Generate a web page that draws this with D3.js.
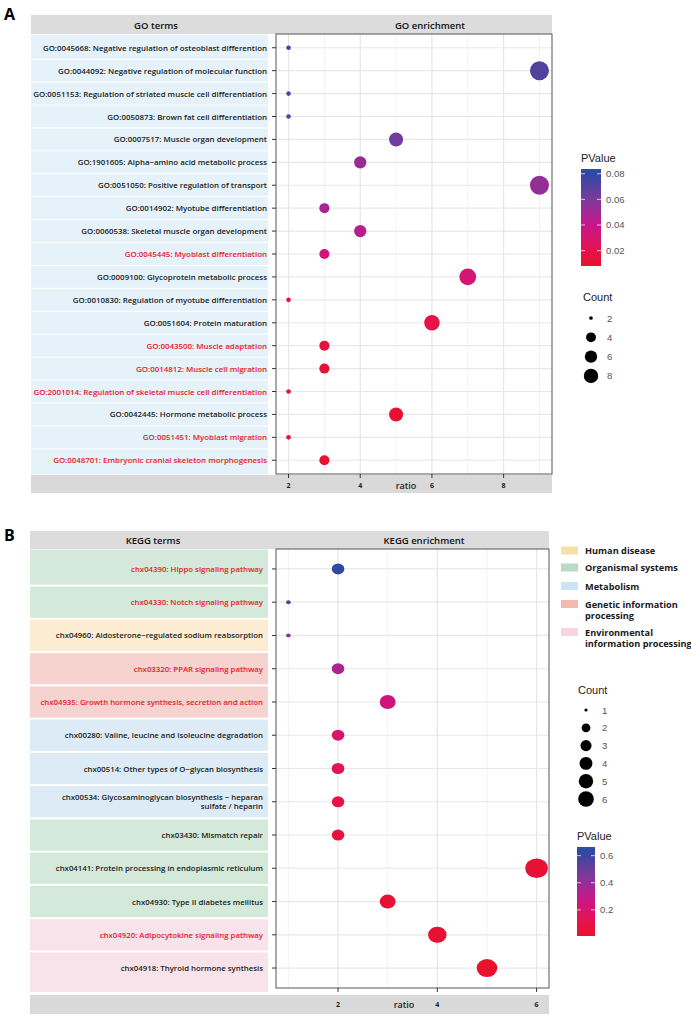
<!DOCTYPE html>
<html>
<head>
<meta charset="utf-8">
<script src="https://cdn.jsdelivr.net/npm/d3@7"></script>
<style>
body { margin: 0; background: #fff; }
svg { display: block; }
</style>
</head>
<body>
<svg id="chart" width="691" height="1015"></svg>
<script>
// ---- Panel A data (GO) ----
const goTerms = [
    "GO:0045668: Negative regulation of osteoblast differention",
    "GO:0044092: Negative regulation of molecular function",
    "GO:0051153: Regulation of striated muscle cell differentiation",
    "GO:0050873: Brown fat cell differentiation ",
    "GO:0007517: Muscle organ development",
    "GO:1901605: Alpha\u2212amino acid metabolic process",
    "GO:0051050: Positive regulation of transport",
    "GO:0014902: Myotube differentiation",
    "GO:0060538: Skeletal muscle organ development",
    "GO:0045445: Myoblast differentiation",
    "GO:0009100: Glycoprotein metabolic process ",
    "GO:0010830: Regulation of myotube differentiation",
    "GO:0051604: Protein maturation",
    "GO:0043500: Muscle adaptation",
    "GO:0014812: Muscle cell migration",
    "GO:2001014: Regulation of skeletal muscle cell differentiation",
    "GO:0042445: Hormone metabolic process",
    "GO:0051451: Myoblast migration",
    "GO:0048701: Embryonic cranial skeleton morphogenesis"
];
const goRatio = [2, 9, 2, 2, 5, 4, 9, 3, 4, 3, 7, 2, 6, 3, 3, 2, 5, 2, 3];
const goCount = [2, 9, 2, 2, 5, 4, 9, 3, 4, 3, 7, 2, 6, 3, 3, 2, 5, 2, 3];
const goPValue = [0.082, 0.071, 0.066, 0.066, 0.063, 0.052, 0.054, 0.048, 0.044, 0.034,
    0.032, 0.022, 0.018, 0.014, 0.013, 0.012, 0.011, 0.010, 0.009];
const goRed = [0, 0, 0, 0, 0, 0, 0, 0, 0, 1, 0, 0, 0, 1, 1, 1, 0, 1, 1];
const goTicks = [2, 4, 6, 8];
const goCountKeys = [2, 4, 6, 8];
const goPTicks = [0.02, 0.04, 0.06, 0.08];

// ---- Panel B data (KEGG) ----
const keggTerms = [
    "chx04390: Hippo signaling pathway",
    "chx04330: Notch signaling pathway",
    "chx04960: Aldosterone\u2212regulated sodium reabsorption",
    "chx03320: PPAR signaling pathway",
    "chx04935: Growth hormone synthesis, secretion and action",
    "chx00280: Valine, leucine and isoleucine degradation",
    "chx00514: Other types of O\u2212glycan biosynthesis",
    "chx00534: Glycosaminoglycan biosynthesis \u2212 heparan\nsulfate / heparin",
    "chx03430: Mismatch repair",
    "chx04141: Protein processing in endoplasmic reticulum",
    "chx04930: Type II diabetes mellitus",
    "chx04920: Adipocytokine signaling pathway",
    "chx04918: Thyroid hormone synthesis"
];
const keggRatio = [2, 1, 1, 2, 3, 2, 2, 2, 2, 6, 3, 4, 5];
const keggCount = [2, 1, 1, 2, 3, 2, 2, 2, 2, 6, 3, 4, 5];
const keggPValue = [0.64, 0.55, 0.45, 0.35, 0.25, 0.2, 0.15, 0.1, 0.06, 0.03, 0.03, 0.02, 0.01];
const keggRed = [1, 1, 0, 1, 1, 0, 0, 0, 0, 0, 0, 1, 0];
const keggClass = [1, 1, 0, 3, 3, 2, 2, 2, 1, 1, 1, 4, 4];
const keggClasses = ["Human disease", "Organismal systems", "Metabolism",
    "Genetic information\nprocessing", "Environmental\ninformation processing"];
const keggTicks = [2, 4, 6];
const keggCountKeys = [1, 2, 3, 4, 5, 6];
const keggPTicks = [0.2, 0.4, 0.6];

// colours of the class bands and legend swatches
const bandColors = ["#fbecd2", "#d4e9da", "#dcebf5", "#f6d3cf", "#f9e3ea"];
const swatchColors = ["#f8e0a8", "#b8dcc3", "#c9e4f3", "#f2b9b1", "#f7d6e2"];
// red -> magenta -> purple -> blue ramp, by position along the p-value range
const rampStops = [0, 0.16, 0.42, 0.69, 0.95, 1];
const rampColors = ["#e8112d", "#e5134d", "#c9168a", "#7a3a9c", "#3048a2", "#2b4ea3"];

const svg = d3.select("#chart");
const labelFont = "'Open Sans', sans-serif";
const legendFont = "'Liberation Sans', Arial, sans-serif";
const redText = "#e3192b";

// ggplot-like point size: area grows with sqrt of rescaled count
function sizeScale(cmin, cmax, rmin, rmax) {
    const s = d3.scaleSqrt().domain([0, cmax - cmin]).range([0, rmax - rmin]);
    return c => rmin + s(c - cmin);
}

function drawPanel(cfg) {
    const g = svg.append("g");
    const n = cfg.terms.length;

    const x = d3.scaleLinear().domain(cfg.xDomain).range([cfg.left, cfg.right]);
    const y = d3.scalePoint().domain(d3.range(n)).range([cfg.top, cfg.bottom]).padding(0.6);
    const p0 = cfg.pDomain[0], p1 = cfg.pDomain[1];
    const color = d3.scaleLinear().domain(rampStops.map(f => p0 + f * (p1 - p0)))
        .range(rampColors).interpolate(d3.interpolateRgb);
    const r = sizeScale(cfg.cDomain[0], cfg.cDomain[1], cfg.rRange[0], cfg.rRange[1]);

    // header band
    g.append("rect").attr("x", cfg.panelLeft).attr("y", cfg.headerTop)
        .attr("width", cfg.right - cfg.panelLeft).attr("height", cfg.top - cfg.headerTop)
        .attr("fill", "#dcdcdc");
    g.append("text").attr("x", cfg.leftTitleX).attr("y", cfg.top - 5)
        .attr("text-anchor", "middle").attr("font-family", labelFont).attr("font-weight", 600)
        .attr("font-size", 9.5).attr("fill", "#111").text(cfg.leftTitle);
    g.append("text").attr("x", cfg.rightTitleX).attr("y", cfg.top - 5)
        .attr("text-anchor", "middle").attr("font-family", labelFont).attr("font-weight", 600)
        .attr("font-size", 9.5).attr("fill", "#111").text(cfg.rightTitle);

    // bottom band
    g.append("rect").attr("x", cfg.panelLeft).attr("y", cfg.footTop)
        .attr("width", cfg.right - cfg.panelLeft).attr("height", cfg.footBottom - cfg.footTop)
        .attr("fill", "#d9d9d9");

    // row bands on the left
    const step = y.step();
    const bandTop = i => i === 0 ? cfg.top + 0.5 : y(i) - step / 2 + cfg.gap / 2;
    const bandBot = i => i === n - 1 ? cfg.bandBottom : y(i) + step / 2 - cfg.gap / 2;
    g.selectAll(".band").data(d3.range(n)).join("rect")
        .attr("x", cfg.panelLeft)
        .attr("y", bandTop)
        .attr("width", cfg.bandRight - cfg.panelLeft)
        .attr("height", i => bandBot(i) - bandTop(i))
        .attr("fill", i => cfg.bandColor(i));

    // grid
    const minor = d3.range(Math.ceil(cfg.xDomain[0]), cfg.xDomain[1]).filter(v => !cfg.ticks.includes(v));
    g.selectAll(".minor").data(minor).join("line")
        .attr("x1", x).attr("x2", x).attr("y1", cfg.top).attr("y2", cfg.bottom)
        .attr("stroke", "#f0f0f0").attr("stroke-width", 0.8);
    g.selectAll(".hgrid").data(d3.range(n)).join("line")
        .attr("x1", cfg.left).attr("x2", cfg.right).attr("y1", y).attr("y2", y)
        .attr("stroke", "#e8e8e8").attr("stroke-width", 1.2);
    g.selectAll(".major").data(cfg.ticks).join("line")
        .attr("x1", x).attr("x2", x).attr("y1", cfg.top).attr("y2", cfg.bottom)
        .attr("stroke", "#e6e6e6").attr("stroke-width", 1.2);

    // panel border
    g.append("rect").attr("x", cfg.left).attr("y", cfg.top)
        .attr("width", cfg.right - cfg.left).attr("height", cfg.bottom - cfg.top)
        .attr("fill", "none").attr("stroke", "#555").attr("stroke-width", 1);

    // y ticks and labels
    g.selectAll(".ytick").data(d3.range(n)).join("line")
        .attr("x1", cfg.left - 4).attr("x2", cfg.left).attr("y1", y).attr("y2", y)
        .attr("stroke", "#333").attr("stroke-width", 1);
    const labels = g.selectAll(".ylab").data(d3.range(n)).join("text")
        .attr("text-anchor", "end")
        .attr("font-family", labelFont).attr("font-weight", 600)
        .attr("font-size", cfg.labelSize)
        .attr("fill", i => cfg.red[i] ? redText : "#1a1a1a");
    labels.each(function(i) {
        const lines = cfg.terms[i].split("\n");
        const t = d3.select(this);
        lines.forEach((ln, k) => {
            t.append("tspan").attr("x", cfg.labelRight)
                .attr("y", y(i) + 3 + (k - (lines.length - 1) / 2) * (cfg.labelSize + 1.5))
                .text(ln);
        });
    });

    // x ticks and labels
    g.selectAll(".xtick").data(cfg.ticks).join("line")
        .attr("x1", x).attr("x2", x).attr("y1", cfg.bottom).attr("y2", cfg.bottom + 4)
        .attr("stroke", "#333").attr("stroke-width", 1);
    g.selectAll(".xlab").data(cfg.ticks).join("text")
        .attr("x", x).attr("y", cfg.tickLabelY)
        .attr("text-anchor", "middle").attr("font-family", labelFont).attr("font-weight", 700)
        .attr("font-size", 7).attr("fill", "#222").text(d => d);
    g.append("text").attr("x", cfg.ratioX).attr("y", cfg.tickLabelY + 1)
        .attr("text-anchor", "middle").attr("font-family", labelFont).attr("font-weight", 600)
        .attr("font-size", 9).attr("fill", "#222").text("ratio");

    // points
    g.selectAll(".pt").data(d3.range(n)).join("ellipse")
        .attr("cx", i => x(cfg.ratio[i])).attr("cy", i => y(i))
        .attr("rx", i => r(cfg.count[i]) * cfg.stretch).attr("ry", i => r(cfg.count[i]))
        .attr("fill", i => color(cfg.pvalue[i]));

    // panel letter
    g.append("text").attr("x", 4).attr("y", cfg.letterY)
        .attr("font-family", labelFont).attr("font-weight", 700).attr("font-size", 16)
        .attr("fill", "#000").text(cfg.letter);

    // PValue colour bar
    const gradId = "grad" + cfg.letter;
    const grad = svg.append("defs").append("linearGradient").attr("id", gradId)
        .attr("x1", 0).attr("x2", 0).attr("y1", 1).attr("y2", 0);
    d3.range(21).forEach(k => {
        const v = p0 + (p1 - p0) * k / 20;
        grad.append("stop").attr("offset", k / 20).attr("stop-color", color(v));
    });
    const cb = cfg.colorbar;
    const cy = d3.scaleLinear().domain(cfg.pDomain).range([cb.y1, cb.y0]);
    g.append("text").attr("x", cb.x).attr("y", cb.y0 - 7)
        .attr("font-family", legendFont).attr("font-size", 11).attr("fill", "#222").text("PValue");
    g.append("rect").attr("x", cb.x).attr("y", cb.y0).attr("width", cb.w).attr("height", cb.y1 - cb.y0)
        .attr("fill", `url(#${gradId})`);
    cfg.pTicks.forEach(v => {
        g.append("line").attr("x1", cb.x).attr("x2", cb.x + 4).attr("y1", cy(v)).attr("y2", cy(v))
            .attr("stroke", "#fff").attr("stroke-opacity", 0.7);
        g.append("line").attr("x1", cb.x + cb.w - 4).attr("x2", cb.x + cb.w).attr("y1", cy(v)).attr("y2", cy(v))
            .attr("stroke", "#fff").attr("stroke-opacity", 0.7);
        g.append("text").attr("x", cb.x + cb.w + 5).attr("y", cy(v) + 3.5)
            .attr("font-family", legendFont).attr("font-size", 9.5).attr("fill", "#555")
            .text(v.toFixed(cfg.pDigits));
    });

    // Count legend
    const cl = cfg.countLegend;
    g.append("text").attr("x", cl.x - 8).attr("y", cl.titleY)
        .attr("font-family", legendFont).attr("font-size", 11).attr("fill", "#222").text("Count");
    cfg.countKeys.forEach((c, k) => {
        const ky = cl.y0 + k * cl.step;
        g.append("circle").attr("cx", cl.x).attr("cy", ky).attr("r", Math.max(1.6, r(c) * 0.8))
            .attr("fill", "#000");
        g.append("text").attr("x", cl.x + 16).attr("y", ky + 3.5)
            .attr("font-family", legendFont).attr("font-size", 9.5).attr("fill", "#555").text(c);
    });
}

drawPanel({
    letter: "A", letterY: 20,
    terms: goTerms, ratio: goRatio, count: goCount, pvalue: goPValue, red: goRed,
    ticks: goTicks, countKeys: goCountKeys, pTicks: goPTicks, pDigits: 2,
    xDomain: [1.65, 9.35], pDomain: [0.008, 0.0837], cDomain: [2, 9], rRange: [2.3, 9.5], stretch: 1,
    panelLeft: 31, bandRight: 268, labelRight: 267, left: 276, right: 552, top: 34, bottom: 474,
    headerTop: 15, footTop: 475, footBottom: 493, bandBottom: 474.5, gap: 1,
    bandColor: () => "#e6f2f9",
    leftTitle: "GO terms", rightTitle: "GO enrichment", leftTitleX: 156, rightTitleX: 430,
    labelSize: 7.9, tickLabelY: 488, ratioX: 406,
    colorbar: { x: 581, w: 20, y0: 169, y1: 266 },
    countLegend: { x: 591, titleY: 301, y0: 318, step: 19.3 }
});

drawPanel({
    letter: "B", letterY: 541,
    terms: keggTerms, ratio: keggRatio, count: keggCount, pvalue: keggPValue, red: keggRed,
    ticks: keggTicks, countKeys: keggCountKeys, pTicks: keggPTicks, pDigits: 1,
    xDomain: [0.75, 6.25], pDomain: [0.007, 0.664], cDomain: [1, 6], rRange: [2, 9.8], stretch: 1.15,
    panelLeft: 30, bandRight: 268, labelRight: 263, left: 276, right: 549, top: 549, bottom: 988,
    headerTop: 531, footTop: 995, footBottom: 1014, bandBottom: 992, gap: 2,
    bandColor: i => bandColors[keggClass[i]],
    leftTitle: "KEGG terms", rightTitle: "KEGG enrichment", leftTitleX: 153, rightTitleX: 424,
    labelSize: 7.8, tickLabelY: 1007, ratioX: 404,
    colorbar: { x: 577, w: 18, y0: 847, y1: 936 },
    countLegend: { x: 586, titleY: 694, y0: 710, step: 17.8 }
});

// KEGG class legend
const classLegend = svg.append("g");
const classY = [550.5, 567.5, 586, 604, 632];
keggClasses.forEach((name, k) => {
    classLegend.append("rect").attr("x", 561).attr("y", classY[k] - 4).attr("width", 17).attr("height", 8)
        .attr("fill", swatchColors[k]);
    name.split("\n").forEach((ln, j) => {
        classLegend.append("text").attr("x", 585).attr("y", classY[k] + 3.5 + j * 11)
            .attr("font-family", labelFont).attr("font-weight", 700)
            .attr("font-size", 9.2).attr("fill", "#1a1a1a").text(ln);
    });
});
</script>
</body>
</html>
